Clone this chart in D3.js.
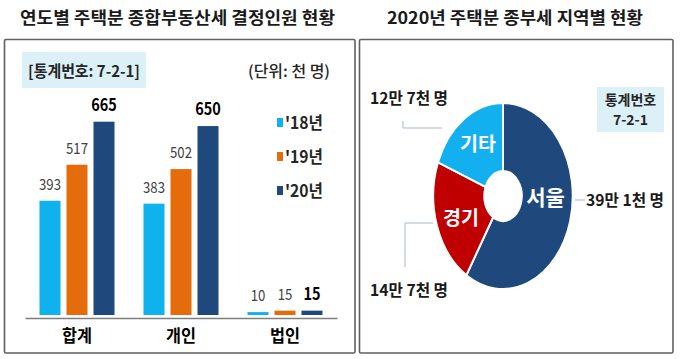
<!DOCTYPE html>
<html><head><meta charset="utf-8">
<script src="https://cdn.jsdelivr.net/npm/d3@7"></script>
<style>
html,body{margin:0;padding:0;background:#fff;}
svg{display:block;font-family:"Noto Sans CJK KR","Noto Sans",sans-serif;}
</style></head>
<body>
<svg id="c" width="680" height="359"></svg>
<script>
// ---- data ----
const categories = ["합계", "개인", "법인"];
const seriesNames = ["'18년", "'19년", "'20년"];
const values18 = [393, 383, 10];
const values19 = [517, 502, 15];
const values20 = [665, 650, 15];
const regions = ["서울", "경기", "기타"];
const regionValues = [391, 147, 127];
const regionLabels = ["39만 1천 명", "14만 7천 명", "12만 7천 명"];

const barColors = ["#10B2EE", "#E46C0A", "#1F497D"];
const pieColors = ["#1F497D", "#C00000", "#12B0EE"];

const svg = d3.select("#c");

function fit(t, w){ t.attr("textLength", w).attr("lengthAdjust", "spacingAndGlyphs"); return t; }

// panels
svg.append("rect").attr("x",4.5).attr("y",39.5).attr("width",350.5).attr("height",313.5)
  .attr("fill","#fff").attr("stroke","#5f5f5f").attr("stroke-width",1.6).attr("rx",1.5);
svg.append("rect").attr("x",359.5).attr("y",39.5).attr("width",313.5).attr("height",313.5)
  .attr("fill","#fff").attr("stroke","#5f5f5f").attr("stroke-width",1.6).attr("rx",1.5);

// titles
fit(svg.append("text").attr("x",177.5).attr("y",24).attr("text-anchor","middle")
  .attr("font-size",16.5).attr("font-weight",700).attr("fill","#1a1a1a")
  .text("연도별 주택분 종합부동산세 결정인원 현황"), 315);
fit(svg.append("text").attr("x",515).attr("y",24).attr("text-anchor","middle")
  .attr("font-size",16.5).attr("font-weight",700).attr("fill","#1a1a1a")
  .text("2020년 주택분 종부세 지역별 현황"), 256);

// ---- bar chart ----
svg.append("rect").attr("x",22).attr("y",52).attr("width",124).attr("height",36).attr("fill","#dcf0f8");
fit(svg.append("text").attr("x",84).attr("y",77).attr("text-anchor","middle")
  .attr("font-size",15.5).attr("font-weight",700).attr("fill","#262626").text("[통계번호: 7-2-1]"), 112);
fit(svg.append("text").attr("x",289).attr("y",77).attr("text-anchor","middle")
  .attr("font-size",15.5).attr("font-weight",500).attr("fill","#262626").text("(단위: 천 명)"), 82);

const x0 = d3.scaleBand().domain(categories).range([25, 337]);
const x1 = d3.scaleBand().domain(seriesNames).range([14.5, 89.5]).paddingInner(6/27);
const y = d3.scaleLinear().domain([0, d3.max(values20)]).range([315, 121.7]);

const seriesVals = [values18, values19, values20];
const barData = [];
categories.forEach((c,i)=>seriesNames.forEach((s,j)=>barData.push({c, s, j, v: seriesVals[j][i]})));

svg.append("g").selectAll("rect").data(barData).join("rect")
  .attr("x", d=>x0(d.c)+x1(d.s)).attr("width", x1.bandwidth())
  .attr("y", d=>y(d.v)).attr("height", d=>y(0)-y(d.v))
  .attr("fill", d=>barColors[d.j]);

svg.append("g").selectAll("text").data(barData).join("text")
  .attr("x", d=>x0(d.c)+x1(d.s)+x1.bandwidth()/2)
  .attr("y", d=>y(d.v)-11)
  .attr("text-anchor","middle")
  .attr("font-size", d=>d.j===2?17:15.5)
  .attr("font-weight", d=>d.j===2?700:400)
  .attr("fill", d=>d.j===2?"#000":"#404040")
  .attr("transform", d=>{const cx=x0(d.c)+x1(d.s)+x1.bandwidth()/2; return `translate(${cx},0) scale(0.85,1) translate(${-cx},0)`;})
  .text(d=>d.v);

const axis = svg.append("g").attr("transform","translate(0,318)")
  .call(d3.axisBottom(x0).tickSize(0).tickPadding(12));
axis.select(".domain").attr("stroke","#7f7f7f").attr("stroke-width",1.3);
axis.selectAll("text").attr("font-size",17).attr("font-weight",700).attr("fill","#000")
  .attr("font-family",'"Noto Sans CJK KR",sans-serif')
  .attr("textLength",30).attr("lengthAdjust","spacingAndGlyphs");

// legend
const lg = svg.append("g").selectAll("g").data(seriesNames).join("g")
  .attr("transform",(d,i)=>`translate(277,${122.5+i*34})`);
lg.append("rect").attr("x",0).attr("y",-4.5).attr("width",6).attr("height",9).attr("fill",(d,i)=>barColors[i]);
lg.append("text").attr("x",8).attr("y",6).attr("font-size",17).attr("font-weight",700)
  .attr("fill","#262626").attr("textLength",38).attr("lengthAdjust","spacingAndGlyphs").text(d=>d);

// ---- donut ----
const cx = 503, cy = 196, sx = 0.75;
const pie = d3.pie().sort(null).value(d=>d)(regionValues);
const arc = d3.arc().innerRadius(25).outerRadius(93);
const pg = svg.append("g").attr("transform",`translate(${cx},${cy}) scale(${sx},1)`);
pg.selectAll("path").data(pie).join("path").attr("d",arc)
  .attr("fill",(d,i)=>pieColors[i]).attr("stroke","#fff").attr("stroke-width",2)
  .attr("vector-effect","non-scaling-stroke");

const inAdj = {"서울":[0,-14], "경기":[0,3], "기타":[0,-3]};
const inSize = {"서울":21, "경기":19.5, "기타":19.5};
svg.append("g").selectAll("text").data(pie).join("text")
  .attr("x",(d,i)=>cx + sx*arc.centroid(d)[0] + inAdj[regions[i]][0])
  .attr("y",(d,i)=>cy + arc.centroid(d)[1] + inAdj[regions[i]][1] + 7)
  .attr("text-anchor","middle").attr("fill","#fff").attr("font-weight",700)
  .attr("font-size",(d,i)=>inSize[regions[i]])
  .text((d,i)=>regions[i]);

// leader lines & outside labels (offsets relative to donut center)
const leaders = [
  [[72,4],[82,4]],
  [[-70,27],[-98,27],[-98,71]],
  [[-61,-68],[-100,-68],[-100,-75]]
];
const outPos = [[83,10], [-133,100], [-133,-92]];
svg.append("g").selectAll("path").data(leaders).join("path")
  .attr("d", d=>d3.line()(d.map(p=>[cx+p[0], cy+p[1]])))
  .attr("fill","none").attr("stroke","#a9b7c9").attr("stroke-width",1);
svg.append("g").selectAll("text").data(regionLabels).join("text")
  .attr("x",(d,i)=>cx+outPos[i][0]).attr("y",(d,i)=>cy+outPos[i][1])
  .attr("font-size",16).attr("font-weight",700).attr("fill","#1a1a1a")
  .attr("textLength",78).attr("lengthAdjust","spacingAndGlyphs")
  .text(d=>d);

// right badge
svg.append("rect").attr("x",597).attr("y",87).attr("width",67).attr("height",45).attr("fill","#dcf0f8");
svg.append("text").attr("x",630.5).attr("y",105).attr("text-anchor","middle")
  .attr("font-size",14).attr("font-weight",700).attr("fill","#262626").text("통계번호");
svg.append("text").attr("x",630.5).attr("y",125).attr("text-anchor","middle")
  .attr("font-size",14).attr("font-weight",700).attr("fill","#262626").text("7-2-1");
</script>
</body></html>
